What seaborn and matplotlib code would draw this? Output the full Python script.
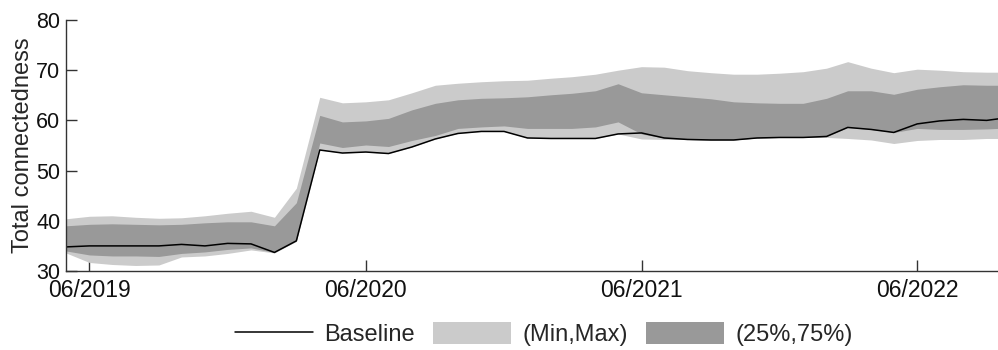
import numpy as np
import pandas as pd
import matplotlib
matplotlib.use("Agg")
import matplotlib.pyplot as plt
from matplotlib.lines import Line2D
from matplotlib.patches import Patch
import seaborn as sns

# ---- data (monthly, 05/2019 .. 10/2022) ----
months = pd.date_range("2019-05-01", periods=42, freq="MS")

baseline = [34.8, 35.0, 35.0, 35.0, 35.0, 35.3, 35.0, 35.5, 35.4, 33.7,
            36.0, 54.1, 53.5, 53.7, 53.4, 54.7, 56.3, 57.4, 57.8, 57.8,
            56.5, 56.4, 56.4, 56.4, 57.3, 57.5, 56.5, 56.2, 56.1, 56.1,
            56.5, 56.6, 56.6, 56.8, 58.6, 58.2, 57.6, 59.3, 59.9, 60.2,
            60.0, 60.6]

q75 = [39.0, 39.3, 39.4, 39.3, 39.2, 39.3, 39.6, 39.8, 39.8, 39.0,
       43.6, 61.0, 59.7, 59.9, 60.4, 62.1, 63.4, 64.1, 64.4, 64.5,
       64.7, 65.1, 65.4, 65.9, 67.3, 65.5, 65.1, 64.7, 64.3, 63.7,
       63.5, 63.4, 63.4, 64.4, 65.9, 65.9, 65.2, 66.2, 66.7, 67.1,
       67.0, 67.0]

q25 = [34.0, 33.2, 33.0, 33.0, 32.9, 33.5, 33.8, 34.3, 34.6, 33.7,
       36.0, 55.5, 54.6, 55.1, 54.8, 56.0, 57.0, 58.4, 58.7, 58.9,
       58.4, 58.4, 58.4, 58.7, 59.7, 57.3, 56.5, 56.2, 56.1, 56.1,
       56.5, 56.6, 56.6, 56.8, 58.6, 58.2, 57.6, 58.4, 58.2, 58.2,
       58.3, 58.5]

vmax = [40.4, 40.9, 41.0, 40.7, 40.5, 40.6, 41.0, 41.5, 41.9, 40.7,
        46.5, 64.6, 63.5, 63.7, 64.1, 65.5, 67.0, 67.4, 67.7, 67.9,
        68.0, 68.4, 68.7, 69.2, 70.0, 70.7, 70.6, 69.9, 69.5, 69.2,
        69.2, 69.4, 69.7, 70.4, 71.7, 70.4, 69.5, 70.2, 70.0, 69.7,
        69.6, 69.6]

vmin = [33.6, 31.7, 31.3, 31.1, 31.2, 32.8, 33.0, 33.5, 34.2, 33.6,
        35.9, 54.1, 53.5, 53.7, 53.4, 54.7, 56.3, 57.4, 57.8, 57.8,
        56.5, 56.4, 56.4, 56.4, 57.3, 56.3, 56.2, 56.2, 56.1, 56.1,
        56.5, 56.6, 56.6, 56.6, 56.4, 56.1, 55.4, 56.0, 56.2, 56.2,
        56.4, 56.4]

tick_dates = pd.to_datetime(["2019-06-01", "2020-06-01", "2021-06-01", "2022-06-01"])
tick_labels = ["06/2019", "06/2020", "06/2021", "06/2022"]

df = pd.DataFrame({"month": months, "baseline": baseline,
                   "q25": q25, "q75": q75, "vmin": vmin, "vmax": vmax})

sns.set_theme(style="white")
plt.rcParams["font.family"] = ["Liberation Sans", "DejaVu Sans"]

light = "#cbcbcb"
dark = "#999999"

fig = plt.figure(figsize=(9.98, 3.5), dpi=100)
ax = fig.add_axes([0.0661, 0.2257, 0.9339, 0.7172])

ax.fill_between(df["month"], df["vmin"], df["vmax"], color=light, linewidth=0)
ax.fill_between(df["month"], df["q25"], df["q75"], color=dark, linewidth=0)
sns.lineplot(data=df, x="month", y="baseline", color="black", linewidth=1.1, ax=ax)

ax.set_ylim(30, 80)
ax.set_yticks([30, 40, 50, 60, 70, 80])
ax.set_xlim(pd.Timestamp("2019-05-01"), pd.Timestamp("2022-09-16"))
ax.set_xticks(tick_dates)
ax.set_xticklabels(tick_labels)
ax.set_xlabel("")
ax.set_ylabel("Total connectedness", fontsize=17, labelpad=2)

for s in ["top", "right"]:
    ax.spines[s].set_visible(False)
for s in ["left", "bottom"]:
    ax.spines[s].set_color("#333333")
    ax.spines[s].set_linewidth(1.0)

ax.tick_params(axis="both", direction="in", length=8, width=1.0,
               color="#333333", labelcolor="#111111", bottom=True, left=True)
ax.tick_params(axis="x", pad=6, labelsize=16.5)
ax.tick_params(axis="y", pad=4, labelsize=15.5)

handles = [Line2D([0], [0], color="black", linewidth=1.1),
           Patch(facecolor=light, edgecolor="none"),
           Patch(facecolor=dark, edgecolor="none")]
labels = ["Baseline", "(Min,Max)", "(25%,75%)"]
fig.legend(handles, labels, loc="center", bbox_to_anchor=(0.545, 0.045),
           ncol=3, frameon=False, fontsize=17, handlelength=3.3,
           handleheight=1.0, handletextpad=0.5, columnspacing=0.75)

fig.savefig("out.png", dpi=100)
